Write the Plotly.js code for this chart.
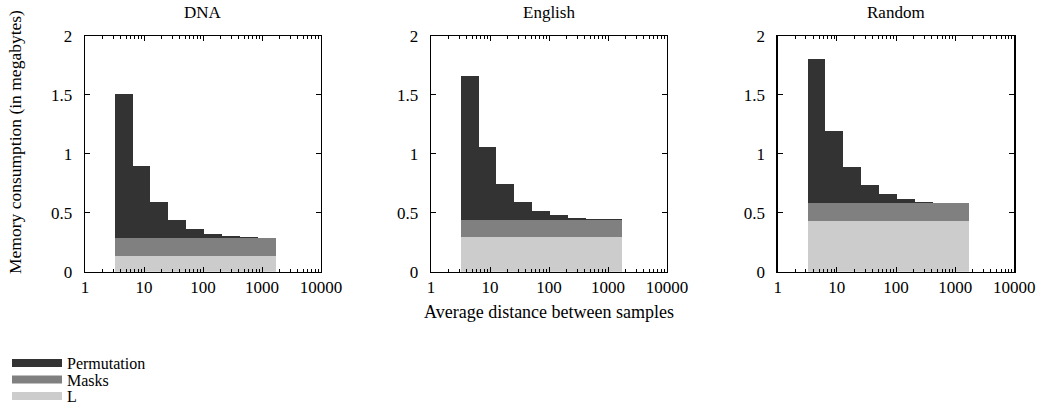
<!DOCTYPE html>
<html>
<head>
<meta charset="utf-8">
<script src="https://cdn.plot.ly/plotly-3.0.1.min.js"></script>
<style>html,body{margin:0;padding:0;background:#fff;}#chart{width:1042px;height:407px;}</style>
</head>
<body>
<div id="chart"></div>
<script>
// ---- data ----
const panelNames = ['DNA', 'English', 'Random'];
// bin edges along "average distance between samples"
const binEdges = [3.2, 6.4, 12.8, 25.8, 52, 105, 211, 426, 860, 1740];
const seriesNames = ['Permutation', 'Masks', 'L'];
const seriesColors = ['#333333', '#808080', '#cccccc'];

const dnaL = [0.134, 0.134, 0.134, 0.134, 0.134, 0.134, 0.134, 0.134, 0.134];
const dnaMasks = [0.153, 0.153, 0.153, 0.153, 0.153, 0.153, 0.153, 0.153, 0.153];
const dnaPerm = [1.219, 0.608, 0.307, 0.153, 0.077, 0.034, 0.017, 0.008, 0.003];

const englishL = [0.295, 0.295, 0.295, 0.295, 0.295, 0.295, 0.295, 0.295, 0.295];
const englishMasks = [0.145, 0.145, 0.145, 0.145, 0.145, 0.145, 0.145, 0.145, 0.145];
const englishPerm = [1.219, 0.614, 0.307, 0.154, 0.077, 0.043, 0.017, 0.009, 0.006];

const randomL = [0.432, 0.432, 0.432, 0.432, 0.432, 0.432, 0.432, 0.432, 0.432];
const randomMasks = [0.148, 0.148, 0.148, 0.148, 0.148, 0.148, 0.148, 0.148, 0.148];
const randomPerm = [1.227, 0.610, 0.306, 0.153, 0.076, 0.039, 0.014, 0.005, 0.002];

const xTickVals = [1, 10, 100, 1000, 10000];
const xTickText = ['1', '10', '100', '1000', '10000'];
const yTickVals = [0, 0.5, 1, 1.5, 2];
const yTickText = ['0', '0.5', '1', '1.5', '2'];

// ---- build ----
const FONT = 'Liberation Serif, Times New Roman, serif';
const panelData = [
  {L: dnaL, M: dnaMasks, P: dnaPerm},
  {L: englishL, M: englishMasks, P: englishPerm},
  {L: randomL, M: randomMasks, P: randomPerm}
];
const lefts = binEdges.slice(0, -1);
const widths = lefts.map((v, i) => binEdges[i + 1] - v);

const minorVals = [];
[1, 10, 100, 1000].forEach(d => { for (let k = 2; k <= 9; k++) minorVals.push(k * d); });

const traces = [];
panelData.forEach((pd, i) => {
  const xa = i === 0 ? 'x' : 'x' + (i + 1);
  const ya = i === 0 ? 'y' : 'y' + (i + 1);
  [[pd.L, 2], [pd.M, 1], [pd.P, 0]].forEach(([vals, s]) => {
    traces.push({
      type: 'bar', x: lefts, y: vals, width: widths, offset: 0,
      xaxis: xa, yaxis: ya, name: seriesNames[s], showlegend: false,
      marker: {color: seriesColors[s], line: {width: 0}}, hoverinfo: 'skip'
    });
  });
});
// legend entries, one legend box per series
const legendKeys = ['legend', 'legend2', 'legend3'];
const legendRowsY = [363, 379.5, 396];
seriesNames.forEach((n, s) => {
  traces.push({type: 'scatter', mode: 'lines', x: [null], y: [null], name: n,
    legend: legendKeys[s],
    line: {color: seriesColors[s], width: 8}, xaxis: 'x', yaxis: 'y', hoverinfo: 'skip'});
});

const W = 1042, H = 407;
const xDomains = [[85 / W, 321 / W], [431 / W, 667 / W], [777.7 / W, 1014.3 / W]];
const yDomain = [1 - 271.7 / H, 1 - 36 / H];

const layout = {
  width: W, height: H,
  margin: {l: 0, r: 0, t: 0, b: 0, autoexpand: false},
  paper_bgcolor: '#fff', plot_bgcolor: '#fff',
  barmode: 'stack', bargap: 0,
  font: {family: FONT, size: 16, color: '#000'},
  showlegend: true,
  annotations: [
    {text: 'Memory consumption (in megabytes)', textangle: -90, xref: 'paper', yref: 'paper',
      x: 15 / W, y: 1 - 142 / H, xanchor: 'center', yanchor: 'middle', showarrow: false,
      font: {family: FONT, size: 17.5}},
    {text: 'Average distance between samples', xref: 'paper', yref: 'paper',
      x: 549 / W, y: 1 - 312 / H, xanchor: 'center', yanchor: 'middle', showarrow: false,
      font: {family: FONT, size: 18}}
  ]
};
legendKeys.forEach((k, s) => {
  layout[k] = {x: 7 / W, xanchor: 'left', y: 1 - legendRowsY[s] / H, yanchor: 'middle',
    font: {family: FONT, size: 16}, bgcolor: 'rgba(0,0,0,0)', itemwidth: 50,
    borderwidth: 0};
});
panelNames.forEach((name, i) => {
  const xk = i === 0 ? 'xaxis' : 'xaxis' + (i + 1);
  const yk = i === 0 ? 'yaxis' : 'yaxis' + (i + 1);
  const anchorY = i === 0 ? 'y' : 'y' + (i + 1);
  const anchorX = i === 0 ? 'x' : 'x' + (i + 1);
  layout[xk] = {
    type: 'log', domain: xDomains[i], anchor: anchorY, range: [0, 4],
    tickmode: 'array', tickvals: xTickVals, ticktext: xTickText,
    ticks: 'inside', ticklen: 5, tickwidth: 1, tickcolor: '#000',
    minor: {tickmode: 'array', tickvals: minorVals, ticks: 'inside', ticklen: 2.5, tickwidth: 1, tickcolor: '#000', showgrid: false},
    showline: true, linecolor: '#000', linewidth: 1.3, mirror: 'ticks',
    showgrid: false, zeroline: false, ticklabelstandoff: 0,
    tickfont: {family: FONT, size: 17}
  };
  layout[yk] = {
    domain: yDomain, anchor: anchorX, range: [0, 2],
    tickmode: 'array', tickvals: yTickVals, ticktext: yTickText,
    ticks: 'inside', ticklen: 5, tickwidth: 1, tickcolor: '#000',
    showline: true, linecolor: '#000', linewidth: 1.3, mirror: 'ticks',
    showgrid: false, zeroline: false, ticklabelstandoff: 8,
    tickfont: {family: FONT, size: 17}
  };
  layout.annotations.push({
    text: name, xref: 'paper', yref: 'paper',
    x: (xDomains[i][0] + xDomains[i][1]) / 2, y: 1 - 13 / H,
    xanchor: 'center', yanchor: 'middle', showarrow: false,
    font: {family: FONT, size: 17}
  });
});

Plotly.newPlot('chart', traces, layout, {staticPlot: true, displayModeBar: false});
</script>
</body>
</html>
